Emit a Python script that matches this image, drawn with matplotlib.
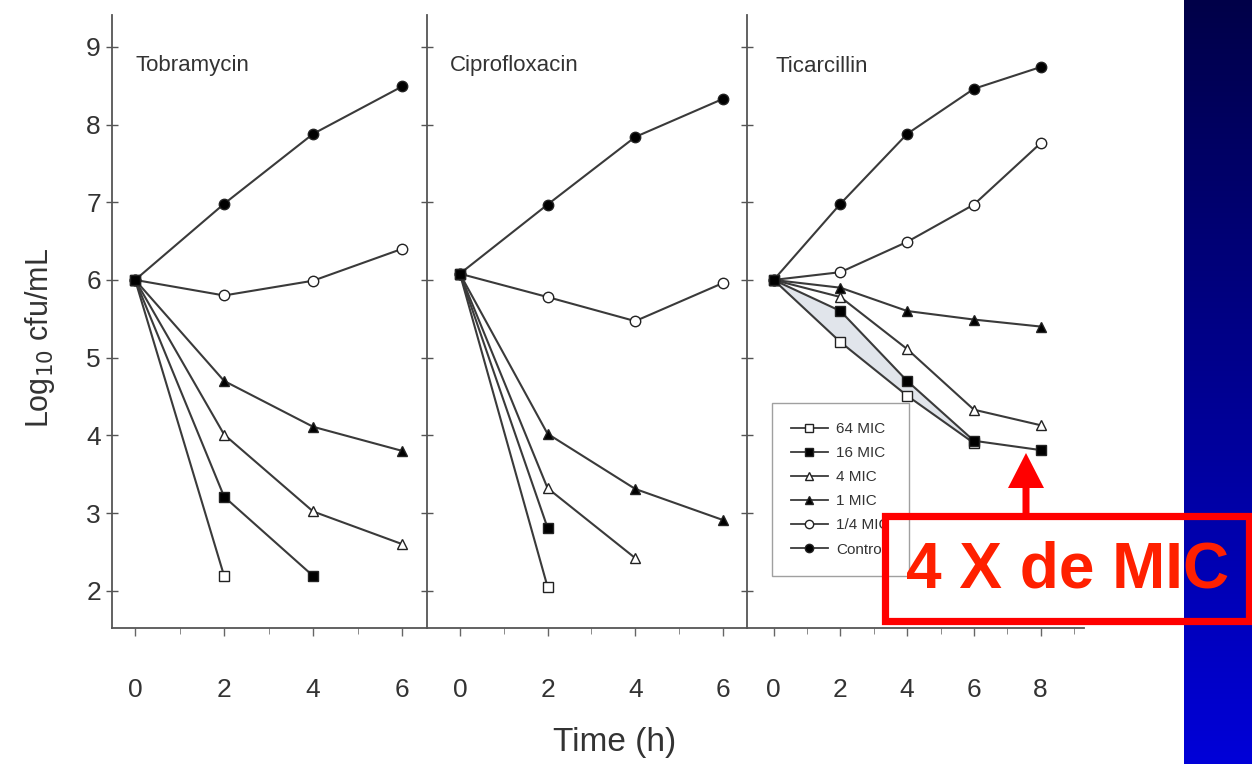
import numpy as np
import matplotlib
matplotlib.use("Agg")
import matplotlib.pyplot as plt
from matplotlib.patches import Rectangle, FancyArrow
from matplotlib.lines import Line2D
from matplotlib.colors import LinearSegmentedColormap

plt.rcParams['font.family'] = ['Liberation Sans', 'DejaVu Sans']

# ---------------- data ----------------
panel_titles = ["Tobramycin", "Ciprofloxacin", "Ticarcillin"]
series_labels = ["64 MIC", "16 MIC", "4 MIC", "1 MIC", "1/4 MIC", "Control"]

# Tobramycin (hours 0,2,4,6)
tob_time = [0, 2, 4, 6]
tob_control = [6.0, 6.98, 7.88, 8.49]
tob_quarter = [6.0, 5.80, 5.99, 6.40]
tob_mic1 = [6.0, 4.70, 4.11, 3.80]
tob_mic4 = [6.0, 4.01, 3.02, 2.60]
tob_mic16 = [6.0, 3.21, 2.19]
tob_mic64 = [6.0, 2.19]

# Ciprofloxacin (hours 0,2,4,6)
cip_time = [0, 2, 4, 6]
cip_control = [6.08, 6.97, 7.84, 8.33]
cip_quarter = [6.08, 5.78, 5.47, 5.96]
cip_mic1 = [6.08, 4.02, 3.31, 2.91]
cip_mic4 = [6.08, 3.32, 2.42]
cip_mic16 = [6.08, 2.81]
cip_mic64 = [6.08, 2.05]

# Ticarcillin (hours 0,2,4,6,8)
tic_time = [0, 2, 4, 6, 8]
tic_control = [6.0, 6.98, 7.88, 8.46, 8.74]
tic_quarter = [6.0, 6.10, 6.49, 6.97, 7.76]
tic_mic1 = [6.0, 5.90, 5.60, 5.49, 5.40]
tic_mic4 = [6.0, 5.78, 5.11, 4.33, 4.13]
tic_mic16 = [6.0, 5.60, 4.70, 3.93, 3.81]
tic_mic64 = [6.0, 5.20, 4.51, 3.90]

y_ticks = [2, 3, 4, 5, 6, 7, 8, 9]
x_ticks_short = [0, 2, 4, 6]
x_ticks_long = [0, 2, 4, 6, 8]

# ---------------- style ----------------
W, H = 1252, 764
fig = plt.figure(figsize=(W / 100, H / 100), dpi=100)
fig.patch.set_facecolor("white")

LC = "#3a3a3a"
styles = {
    "64 MIC": dict(marker="s", mfc="white"),
    "16 MIC": dict(marker="s", mfc="black"),
    "4 MIC": dict(marker="^", mfc="white"),
    "1 MIC": dict(marker="^", mfc="black"),
    "1/4 MIC": dict(marker="o", mfc="white"),
    "Control": dict(marker="o", mfc="black"),
}


def fx(px):
    return px / W


def fy(py):
    return 1 - py / H


top_px, bot_px = 15, 628
ax_specs = [
    (112, 427, (-0.52, 6.56)),
    (427, 747, (-0.75, 6.55)),
    (747, 1084, (-0.80, 9.30)),
]
axes = []
for l, r, xl in ax_specs:
    ax = fig.add_axes([fx(l), fy(bot_px), fx(r - l), fy(top_px) - fy(bot_px)])
    ax.set_xlim(*xl)
    ax.set_ylim(1.52, 9.41)
    ax.patch.set_alpha(0)
    for s in ["top", "right"]:
        ax.spines[s].set_visible(False)
    for s in ["left", "bottom"]:
        ax.spines[s].set_color("#555555")
        ax.spines[s].set_linewidth(1.3)
    ax.set_yticks(y_ticks)
    ax.tick_params(axis="y", direction="inout", length=8, width=1.0, color="#555555",
                   labelsize=19, pad=4, labelcolor="#333333")
    ax.tick_params(axis="x", direction="out", length=6, width=1.0, color="#666666",
                   labelsize=19, pad=30, labelcolor="#333333")
    axes.append(ax)

ax1, ax2, ax3 = axes
ax2.tick_params(axis="y", labelleft=False)
ax3.tick_params(axis="y", labelleft=False)
ax1.set_xticks(x_ticks_short)
ax2.set_xticks(x_ticks_short)
ax3.set_xticks(x_ticks_long)
for ax in axes:
    ax.set_xticks(np.arange(0, ax.get_xlim()[1], 1), minor=True)
    ax.tick_params(axis="x", which="minor", direction="out", length=4, color="#777777")


def draw(ax, t, data):
    for lab in ["64 MIC", "4 MIC", "1/4 MIC", "1 MIC", "Control", "16 MIC"]:
        y = data[lab]
        st = styles[lab]
        ax.plot(t[:len(y)], y, color=LC, lw=1.5, marker=st["marker"],
                mfc=st["mfc"], mec="#222222", mew=1.0, ms=7.5, zorder=3)


# shaded band in Ticarcillin between 64 MIC and 16 MIC
ax3.fill_between(tic_time[:len(tic_mic64)], tic_mic64, tic_mic16[:len(tic_mic64)],
                 color="#e1e5eb", zorder=1, lw=0)

draw(ax1, tob_time, {"Control": tob_control, "1/4 MIC": tob_quarter, "1 MIC": tob_mic1,
                     "4 MIC": tob_mic4, "16 MIC": tob_mic16, "64 MIC": tob_mic64})
draw(ax2, cip_time, {"Control": cip_control, "1/4 MIC": cip_quarter, "1 MIC": cip_mic1,
                     "4 MIC": cip_mic4, "16 MIC": cip_mic16, "64 MIC": cip_mic64})
draw(ax3, tic_time, {"Control": tic_control, "1/4 MIC": tic_quarter, "1 MIC": tic_mic1,
                     "4 MIC": tic_mic4, "16 MIC": tic_mic16, "64 MIC": tic_mic64})

# panel titles
for x_px, ttl in zip([135, 450, 776], panel_titles):
    fig.text(fx(x_px), fy(66), ttl, fontsize=16, color="#333333", va="center", ha="left")

# axis labels
fig.text(fx(40), fy(338), "Log$_{10}$ cfu/mL", rotation=90, fontsize=22,
         color="#333333", ha="center", va="center")
fig.text(fx(615), fy(742), "Time (h)", fontsize=24, color="#333333",
         ha="center", va="center")

# legend
handles = [Line2D([], [], color=LC, lw=1.3, marker=styles[l]["marker"],
                  mfc=styles[l]["mfc"], mec="#222222", ms=6) for l in series_labels]
leg = ax3.legend(handles, series_labels, loc="upper left",
                 bbox_to_anchor=(fx(772), fy(403)), bbox_transform=fig.transFigure,
                 borderaxespad=0, fontsize=11, frameon=True, fancybox=False,
                 handlelength=2.4, labelspacing=0.66, borderpad=1.25,
                 handletextpad=0.55)
leg.get_frame().set_edgecolor("#888888")
leg.get_frame().set_linewidth(1.0)
for t in leg.get_texts():
    t.set_color("#333333")

# blue gradient bar on the right
bax = fig.add_axes([fx(1184), 0, fx(W - 1184), 1], zorder=5)
grad = np.linspace(0, 1, 256).reshape(-1, 1)
cmap = LinearSegmentedColormap.from_list("bar", ["#000048", "#0000d8"])
bax.imshow(grad, aspect="auto", cmap=cmap, extent=[0, 1, 1, 0])
bax.axis("off")

# red annotation box, arrow and text
oax = fig.add_axes([0, 0, 1, 1], zorder=10)
oax.set_xlim(0, W)
oax.set_ylim(H, 0)
oax.axis("off")
oax.patch.set_alpha(0)
oax.add_patch(Rectangle((884.5, 516), 1248.5 - 884.5, 621 - 516, fill=False,
                        edgecolor="#ff0000", lw=5.2))
oax.add_patch(FancyArrow(1026, 513, 0, -60, width=7, head_width=36, head_length=35,
                         length_includes_head=True, color="#ff0000", lw=0))
oax.text(1068, 570, "4 X de MIC", fontsize=46, fontweight="bold", color="#ff2000",
         ha="center", va="center")

fig.savefig("out.png", dpi=100)
